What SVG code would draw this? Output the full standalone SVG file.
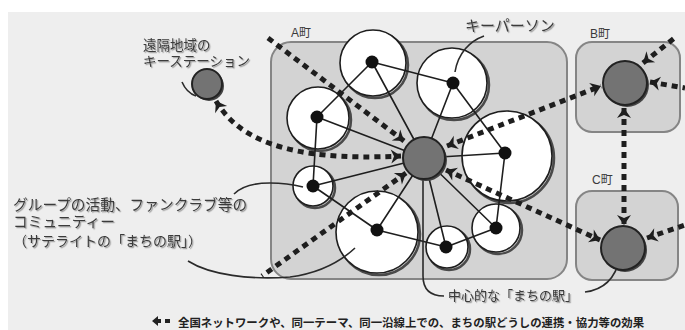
<svg xmlns="http://www.w3.org/2000/svg" width="685" height="330" viewBox="0 0 685 330">
<style>
.bg{fill:#eeeeee}
.town{fill:#d3d3d3;stroke:#858585;stroke-width:2}
.lbl{font-family:"Liberation Sans","Noto Sans CJK JP",sans-serif;fill:#3a3a3a}
.cap{font-family:"Liberation Sans","Noto Sans CJK JP",sans-serif;fill:#222;font-weight:bold}
.comm{fill:#fff;stroke:#1e1e1e;stroke-width:1.6}
.shad{fill:none;stroke:#4a4a4a;stroke-width:2.5}
.dot{fill:#111}
.station{fill:#737373;stroke:#222;stroke-width:2}
.link{fill:none;stroke:#1e1e1e;stroke-width:1.6}
.lead{fill:none;stroke:#2a2a2a;stroke-width:1.6}
.flow{fill:none;stroke:#1e1e1e;stroke-width:5;stroke-dasharray:6 5}
</style>
<defs>
<filter id="ts" x="-5%" y="-20%" width="115%" height="160%">
<feDropShadow dx="1.2" dy="1.2" stdDeviation="0.7" flood-color="#9a9a9a"/>
</filter>
<marker id="ah" viewBox="-1 -8 12 16" refX="10" refY="0" markerWidth="12" markerHeight="16" markerUnits="userSpaceOnUse" orient="auto-start-reverse">
<polygon points="0,-7 10,0 0,7 3,0" fill="#1e1e1e"/>
</marker>
</defs>
<rect width="685" height="330" fill="#fff"/>
<rect class="bg" x="8" y="12" width="677" height="318"/>

<g id="townA"><rect class="town" x="271" y="42" width="296" height="237" rx="20"/><text class="lbl" x="291" y="37" font-size="12">A町</text></g>
<g id="townB"><rect class="town" x="576" y="42" width="104" height="90" rx="16"/><text class="lbl" x="590" y="38" font-size="12">B町</text></g>
<g id="townC"><rect class="town" x="576" y="191" width="102" height="89" rx="16"/><text class="lbl" x="592" y="184" font-size="12">C町</text></g>

<g id="comm1"><circle class="shad" cx="375" cy="65" r="33"/><circle class="comm" cx="373" cy="63" r="33"/></g>
<g id="comm2"><circle class="shad" cx="454" cy="85" r="35"/><circle class="comm" cx="452" cy="83" r="35"/></g>
<g id="comm3"><circle class="shad" cx="320" cy="120" r="31"/><circle class="comm" cx="318" cy="118" r="31"/></g>
<g id="comm4"><circle class="shad" cx="509" cy="158" r="45"/><circle class="comm" cx="507" cy="156" r="45"/></g>
<g id="comm5"><circle class="shad" cx="315" cy="188" r="20"/><circle class="comm" cx="313" cy="186" r="20"/></g>
<g id="comm6"><circle class="shad" cx="379" cy="234" r="41"/><circle class="comm" cx="377" cy="232" r="41"/></g>
<g id="comm7"><circle class="shad" cx="449" cy="249" r="21"/><circle class="comm" cx="447" cy="247" r="21"/></g>
<g id="comm8"><circle class="shad" cx="498" cy="230" r="24"/><circle class="comm" cx="496" cy="228" r="24"/></g>

<g id="connectors">
<path class="link" d="M424,158 L372,62 M424,158 L453,83 M424,158 L317,117 M424,158 L505,153 M424,158 L313,186 M424,158 L377,230 M424,158 L446,247 M424,158 L496,228"/>
<path class="link" d="M372,62 L453,83 M372,62 L317,117 M317,117 L313,186 M313,186 L377,230 M377,230 L446,247 M446,247 L496,228 M505,153 L496,228 M453,83 L505,153"/>
<path class="lead" d="M423,168 L423,276 C423,290 430,296 444,296"/>
<path class="lead" d="M585,292 C602,290 615,280 620,258"/>
<path class="lead" d="M484,36 C470,41 458,53 455,72"/>
<path class="lead" d="M182,82 C185,89 190,94 196,96"/>
<path class="lead" d="M234,194 C242,186 255,183 270,183 C285,183 295,185 303,187"/>
<path class="lead" d="M188,261 C210,275 250,280 290,277 C320,273 340,262 355,248"/>
<path class="flow" d="M268,38 L404,141" marker-end="url(#ah)"/>
<path class="flow" d="M216,101 C238,138 285,162 401,156" marker-start="url(#ah)" marker-end="url(#ah)"/>
<path class="flow" d="M447,146 L601,86" marker-start="url(#ah)" marker-end="url(#ah)"/>
<path class="flow" d="M446,170 L600,240" marker-start="url(#ah)" marker-end="url(#ah)"/>
<path class="flow" d="M406,173 L262,276" marker-start="url(#ah)"/>
<path class="flow" d="M624,108 L624,225" marker-start="url(#ah)" marker-end="url(#ah)"/>
<path class="flow" d="M650,82 L685,88" marker-start="url(#ah)"/>
<path class="flow" d="M643,63 L677,36" marker-start="url(#ah)"/>
<path class="flow" d="M647,238 L685,225" marker-start="url(#ah)"/>
</g>

<g id="dots">
<circle class="dot" cx="372" cy="62" r="6.5"/>
<circle class="dot" cx="453" cy="83" r="6.5"/>
<circle class="dot" cx="317" cy="117" r="6.5"/>
<circle class="dot" cx="505" cy="153" r="6.5"/>
<circle class="dot" cx="313" cy="186" r="6.5"/>
<circle class="dot" cx="377" cy="230" r="6.5"/>
<circle class="dot" cx="446" cy="247" r="6.5"/>
<circle class="dot" cx="496" cy="228" r="6.5"/>
</g>

<g id="centerStation"><circle cx="426" cy="160" r="21" fill="#444"/><circle class="station" cx="424" cy="158" r="21"/></g>
<g id="remoteStation"><circle cx="209" cy="86" r="15" fill="#444"/><circle class="station" cx="207" cy="84" r="15"/></g>
<g id="stationB"><circle cx="627" cy="85" r="22" fill="#444"/><circle class="station" cx="625" cy="83" r="22"/></g>
<g id="stationC"><circle cx="625" cy="250" r="22" fill="#444"/><circle class="station" cx="623" cy="248" r="22"/></g>

<g id="labels" filter="url(#ts)">
<text class="lbl" x="143" y="50" font-size="13.5">遠隔地域の</text>
<text class="lbl" x="143" y="66" font-size="13.5">キーステーション</text>
<text class="lbl" x="465" y="31" font-size="15">キーパーソン</text>
<text class="lbl" x="13" y="210" font-size="14.7">グループの活動、ファンクラブ等の</text>
<text class="lbl" x="13" y="227" font-size="14.7">コミュニティー</text>
<text class="lbl" x="13" y="246" font-size="14">（サテライトの「まちの駅」）</text>
<text class="lbl" x="448" y="300" font-size="13">中心的な「まちの駅」</text>
</g>

<g id="legend">
<polygon points="152,321 158,316 158,319 161,319 161,323 158,323 158,326" fill="#222"/>
<rect x="165" y="319" width="5" height="4" fill="#222"/>
<text class="cap" x="178" y="327" font-size="11.4">全国ネットワークや、同一テーマ、同一沿線上での、まちの駅どうしの連携・協力等の効果</text>
</g>
</svg>
